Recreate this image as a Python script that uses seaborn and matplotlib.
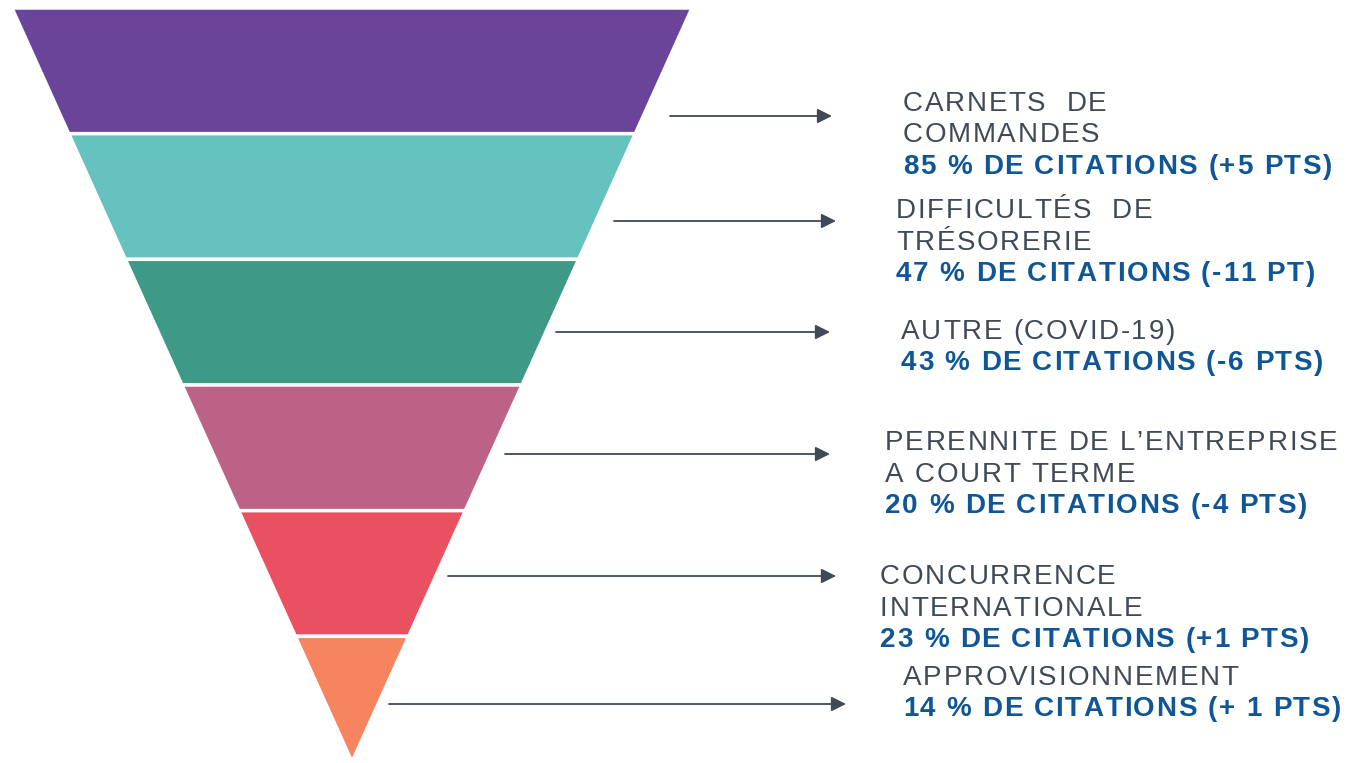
import matplotlib.pyplot as plt
from matplotlib.font_manager import FontProperties
import seaborn as sns

# funnel data (top to bottom)
labels = ["CARNETS  DE\nCOMMANDES", "DIFFICULTÉS  DE\nTRÉSORERIE", "AUTRE (COVID-19)",
          "PERENNITE DE L\u2019ENTREPRISE\nA COURT TERME", "CONCURRENCE\nINTERNATIONALE",
          "APPROVISIONNEMENT"]
citations = [85, 47, 43, 20, 23, 14]
changes = ["(+5 PTS)", "(-11 PT)", "(-6 PTS)", "(-4 PTS)", "(+1 PTS)", "(+ 1 PTS)"]
colors = ["#6A4499", "#66C2BE", "#3E9986", "#BD6287", "#E95160", "#F5845F"]

# layout (pixels)
W, H = 1347, 763
top_y, apex_y = 8, 762
left_x, right_x, apex_x = 12, 692, 352
arrow_y = [116, 221, 332, 454, 576, 704]
arrow_x0 = [670, 614, 556, 505, 448, 389]
arrow_x1 = [832, 836, 830, 830, 836, 846]
text_x = [903, 896, 901, 885, 880, 903]
text_top = [101, 208, 329, 440, 574, 675]
line_h = 31.5

sns.set_theme(style="white")
plt.rcParams['font.family'] = ['Liberation Sans', 'DejaVu Sans']

fig = plt.figure(figsize=(W / 100, H / 100), dpi=100)
ax = fig.add_axes([0, 0, 1, 1])
ax.set_xlim(0, W)
ax.set_ylim(H, 0)
ax.axis("off")
renderer = fig.canvas.get_renderer()

n = len(labels)
band_h = (apex_y - top_y) / n


def half_width(y):
    return (right_x - apex_x) * (apex_y - y) / (apex_y - top_y)


for i, col in enumerate(colors):
    y0 = top_y + i * band_h
    y1 = y0 + band_h
    w0, w1 = half_width(y0), half_width(y1)
    xs = [apex_x - w0, apex_x + w0, apex_x + w1, apex_x - w1]
    ys = [y0, y0, y1, y1]
    ax.fill(xs, ys, color=col, edgecolor="white", linewidth=2.5, zorder=2)


def spaced_text(x, y, s, size, color, weight="normal", track=1.7):
    # letter-spaced text, one glyph at a time
    prop = FontProperties(family=['Liberation Sans', 'DejaVu Sans'], size=size, weight=weight)
    bar = renderer.get_text_width_height_descent("||", prop, ismath=False)[0]
    for ch in s:
        ax.text(x, y, ch, fontproperties=prop, color=color, va="baseline", ha="left")
        adv = renderer.get_text_width_height_descent("|" + ch + "|", prop, ismath=False)[0] - bar
        x += adv + track


gray = "#3F4A55"
blue = "#0F5696"
fs = 20
for i in range(n):
    ax.annotate("", xy=(arrow_x1[i], arrow_y[i]), xytext=(arrow_x0[i], arrow_y[i]),
                arrowprops=dict(arrowstyle="-|>", color=gray, lw=1.3,
                                mutation_scale=22, shrinkA=0, shrinkB=0))
    lines = labels[i].split("\n")
    for j, ln in enumerate(lines):
        spaced_text(text_x[i], text_top[i] + j * line_h + 10, ln, fs, gray)
    spaced_text(text_x[i], text_top[i] + len(lines) * line_h + 10,
                f"{citations[i]} % DE CITATIONS {changes[i]}", fs, blue, weight="bold")

fig.savefig("out.png", dpi=100)
